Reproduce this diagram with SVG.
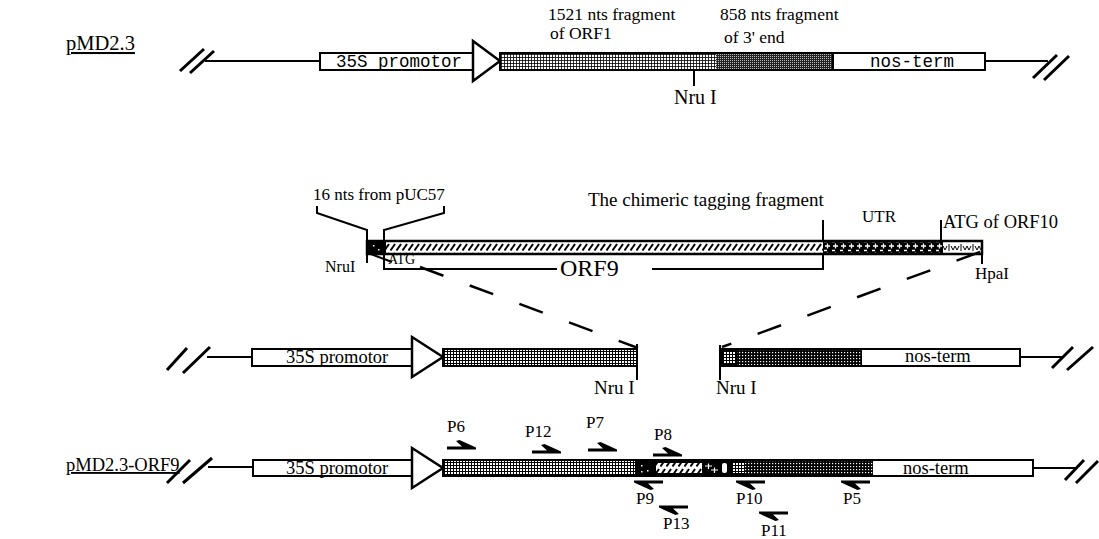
<svg xmlns="http://www.w3.org/2000/svg" width="1099" height="539" viewBox="0 0 1099 539">
<defs>
<pattern id="pLight" width="3" height="3" patternUnits="userSpaceOnUse"><rect width="3" height="3" fill="#fff"/><rect width="3" height="0.8" fill="#000"/><rect width="0.8" height="3" fill="#000"/></pattern>
<pattern id="pDark" width="2" height="2" patternUnits="userSpaceOnUse"><rect width="2" height="2" fill="#222"/><rect width="1" height="1" fill="#bbb"/></pattern>
<pattern id="pGrid" width="3" height="3" patternUnits="userSpaceOnUse"><rect width="3" height="3" fill="#fff"/><rect width="3" height="1" fill="#000"/><rect width="1" height="3" fill="#000"/></pattern>
<pattern id="pDarkDot" width="3" height="3" patternUnits="userSpaceOnUse"><rect width="3" height="3" fill="#000"/><rect x="1" y="1" width="1.2" height="1.2" fill="#fff"/></pattern>
<pattern id="pHatch" width="6" height="9" patternUnits="userSpaceOnUse"><rect width="6" height="9" fill="#fff"/><path d="M0.5,7.5 L5,1" stroke="#000" stroke-width="2"/></pattern>
<pattern id="pUtr" width="8" height="9" patternUnits="userSpaceOnUse"><rect width="8" height="9" fill="#000"/><path d="M1,3H6M3.5,0.5V5.5M0,7.5H3" stroke="#fff" stroke-width="1.3"/></pattern>
<pattern id="pOrf10" width="12" height="9" patternUnits="userSpaceOnUse"><rect width="12" height="9" fill="#fff"/><path d="M1,1V8M3,3L5,7L7,3L9,7L11,3" stroke="#000" stroke-width="1" fill="none"/></pattern>
<path id="fwd" d="M0,-1.6 H15 L9,-7 L12.5,-8 L29,-0.6 V1.6 H0 Z" fill="#000"/>
</defs>
<style>
.t{font-family:"Liberation Serif","Times New Roman",serif;fill:#000}
.m{font-family:"Liberation Mono","Courier New",monospace;fill:#000}
.box{stroke:#000;stroke-width:2}
.ln{stroke:#000;stroke-width:2;fill:none}
.sl{stroke:#000;stroke-width:3;fill:none}
.dash{stroke:#000;stroke-width:2.5;fill:none;stroke-dasharray:25 28}
.pl{font-size:17px}
</style>

<!-- Row 1: pMD2.3 -->
<g id="pMD23">
<text class="t" x="66" y="50" font-size="20.5" text-decoration="underline">pMD2.3</text>
<path class="sl" d="M180,71 L204,49 M190,73 L214,51"/>
<path class="ln" d="M205,61 H320 M985,61 H1048"/>
<path class="sl" d="M1033,78 L1057,55 M1044,80 L1069,56"/>
<rect x="320" y="53" width="153" height="17" fill="#fff" class="box"/>
<text class="m" x="336" y="67" font-size="17.5">35S promotor</text>
<path d="M473,41 L500,61 L473,81 Z" fill="#fff" stroke="#000" stroke-width="2.5"/>
<rect x="500" y="53" width="216" height="17" fill="url(#pLight)"/>
<rect x="716" y="53" width="117" height="17" fill="url(#pDark)"/>
<rect x="833" y="53" width="152" height="17" fill="#fff"/>
<rect x="500" y="53" width="485" height="17" fill="none" class="box"/>
<line class="ln" x1="833" y1="53" x2="833" y2="70"/>
<text class="m" x="870" y="67" font-size="17.5">nos-term</text>
<line class="ln" x1="694" y1="70" x2="694" y2="86"/>
<text class="t" x="674" y="104" font-size="20">Nru I</text>
<text class="t" x="548" y="20" font-size="17.5">1521 nts fragment</text>
<text class="t" x="550" y="39" font-size="17.5">of ORF1</text>
<text class="t" x="720" y="20" font-size="17.5">858 nts fragment</text>
<text class="t" x="724" y="43" font-size="17.5">of 3' end</text>
</g>

<!-- Row 2: chimeric tagging fragment -->
<g id="chimeric">
<text class="t" x="313" y="200" font-size="17">16 nts from pUC57</text>
<text class="t" x="588" y="206" font-size="19">The chimeric tagging fragment</text>
<text class="t" x="862" y="222" font-size="17">UTR</text>
<text class="t" x="943" y="228" font-size="18.5">ATG of ORF10</text>
<path class="ln" d="M317,206 V213 L367,230 V263"/>
<path class="ln" d="M444,206 V213 L384,230 V269 H557 M652,269 H823 V220"/>
<line class="ln" x1="941" y1="220" x2="941" y2="241"/>
<line class="ln" x1="982" y1="241" x2="982" y2="264"/>
<line class="ln" x1="368" y1="253" x2="392" y2="262"/>
<rect x="367" y="241" width="19" height="13" fill="#000"/>
<rect x="373" y="245" width="1.5" height="1.5" fill="#fff"/>
<rect x="378" y="249" width="1.5" height="1.5" fill="#fff"/>
<rect x="386" y="241" width="437" height="13" fill="url(#pHatch)"/>
<rect x="823" y="241" width="120" height="13" fill="url(#pUtr)"/>
<rect x="943" y="241" width="39" height="13" fill="url(#pOrf10)"/>
<rect x="367" y="241" width="615" height="13" fill="none" stroke="#000" stroke-width="2.5"/>
<text class="t" x="325" y="272" font-size="16">NruI</text>
<text class="t" x="388" y="264" font-size="14">ATG</text>
<text class="t" x="560" y="276" font-size="24">ORF9</text>
<text class="t" x="975" y="279" font-size="17">HpaI</text>
</g>

<!-- Row 3: opened vector -->
<g id="cut-left">
<path class="sl" d="M167,370 L187,348 M183,373 L210,347"/>
<path class="ln" d="M207,357 H252"/>
<rect x="252" y="349" width="160" height="17" fill="#fff" class="box"/>
<text class="t" x="286" y="363" font-size="18.5">35S promotor</text>
<path d="M412,337 L443,357 L412,377 Z" fill="#fff" stroke="#000" stroke-width="2.5"/>
<rect x="443" y="349" width="194" height="17" fill="url(#pGrid)" class="box"/>
<line class="ln" x1="637" y1="344" x2="637" y2="380"/>
<text class="t" x="594" y="394" font-size="19">Nru I</text>
</g>
<g id="cut-right">
<line class="ln" x1="720" y1="345" x2="720" y2="380"/>
<rect x="720" y="349" width="17" height="17" fill="#000"/>
<rect x="723" y="352" width="12" height="11" fill="url(#pGrid)"/>
<rect x="737" y="349" width="125" height="17" fill="url(#pDarkDot)"/>
<rect x="862" y="349" width="158" height="17" fill="#fff"/>
<rect x="720" y="349" width="300" height="17" fill="none" class="box"/>
<text class="t" x="905" y="362" font-size="18.5">nos-term</text>
<path class="ln" d="M1020,357 H1062"/>
<path class="sl" d="M1052,368 L1073,347 M1067,370 L1093,347"/>
<text class="t" x="716" y="394" font-size="19">Nru I</text>
</g>

<!-- Row 4: pMD2.3-ORF9 -->
<g id="pMD23-ORF9">
<text class="t" x="66" y="471" font-size="18.5" text-decoration="underline">pMD2.3-ORF9</text>
<path class="sl" d="M167,483 L190,460 M183,483 L212,458"/>
<path class="ln" d="M208,467 H253 M1033,468 H1075"/>
<path class="sl" d="M1065,480 L1084,460 M1076,483 L1098,461"/>
<rect x="253" y="460" width="160" height="16" fill="#fff" class="box"/>
<text class="t" x="286" y="474" font-size="18.5">35S promotor</text>
<path d="M412,448 L443,468 L412,488 Z" fill="#fff" stroke="#000" stroke-width="2.5"/>
<rect x="443" y="460" width="192" height="16" fill="url(#pGrid)"/>
<rect x="635" y="460" width="110" height="16" fill="#000"/>
<rect x="641" y="465" width="1.5" height="1.5" fill="#fff"/>
<rect x="647" y="470" width="1.5" height="1.5" fill="#fff"/>
<rect x="641" y="471" width="1.5" height="1.5" fill="#fff"/>
<rect x="656" y="463" width="46" height="10" fill="url(#pHatch)"/>
<path d="M705,466 H712 M708.5,463.5 V469 M711,470 H718 M714.5,467.5 V473" stroke="#fff" stroke-width="1.2"/>
<rect x="722" y="463" width="5" height="10" rx="2" fill="#fff"/>
<rect x="733" y="463" width="12" height="10" fill="url(#pGrid)"/>
<rect x="745" y="460" width="128" height="16" fill="url(#pDarkDot)"/>
<rect x="873" y="460" width="160" height="16" fill="#fff"/>
<rect x="443" y="460" width="590" height="16" fill="none" class="box"/>
<text class="t" x="903" y="474" font-size="18.5">nos-term</text>
</g>

<!-- Primers -->
<g id="primers">
<use href="#fwd" x="447" y="448"/>
<use href="#fwd" x="532" y="452"/>
<use href="#fwd" x="588" y="450"/>
<use href="#fwd" x="653" y="455"/>
<use href="#fwd" transform="translate(663,482) rotate(180)"/>
<use href="#fwd" transform="translate(688,507) rotate(180)"/>
<use href="#fwd" transform="translate(765,482) rotate(180)"/>
<use href="#fwd" transform="translate(788,513) rotate(180)"/>
<use href="#fwd" transform="translate(870,482) rotate(180)"/>
<text class="t pl" x="447" y="432">P6</text>
<text class="t pl" x="525" y="437">P12</text>
<text class="t pl" x="586" y="428">P7</text>
<text class="t pl" x="654" y="440">P8</text>
<text class="t pl" x="636" y="504">P9</text>
<text class="t pl" x="663" y="529">P13</text>
<text class="t pl" x="736" y="504">P10</text>
<text class="t pl" x="761" y="536">P11</text>
<text class="t pl" x="843" y="504">P5</text>
</g>

<!-- Connectors -->
<g id="connectors">
<path class="dash" d="M420,267 L638,348"/>
<path class="dash" d="M980,252 L722,347"/>
</g>
</svg>
